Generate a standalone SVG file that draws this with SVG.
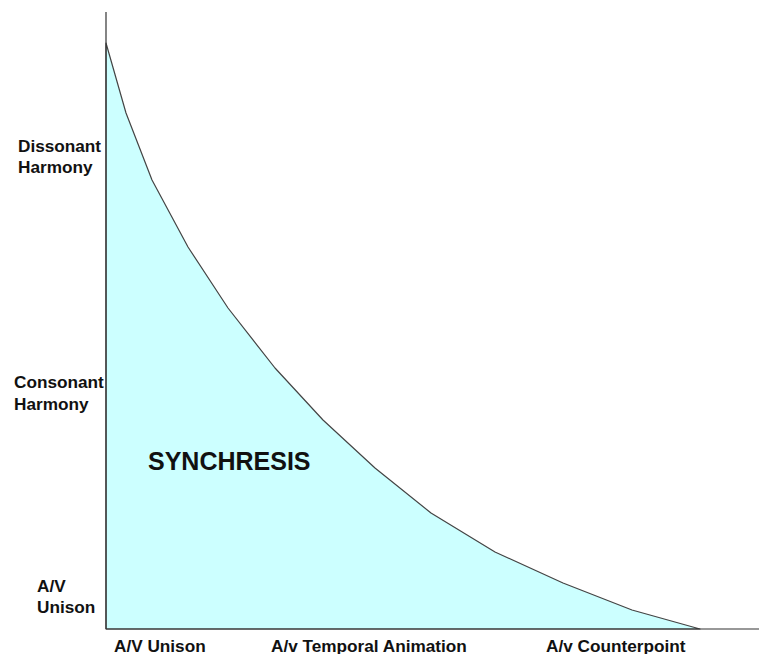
<svg xmlns="http://www.w3.org/2000/svg" width="759" height="654" viewBox="0 0 759 654">
  <style>
    .lbl { font-family: "Liberation Sans", Arial, Helvetica, sans-serif; font-weight: bold; font-size: 17.2px; fill: #111; }
    .big { font-family: "Liberation Sans", Arial, Helvetica, sans-serif; font-weight: bold; font-size: 25px; fill: #111; }
    .axis { stroke: #333; stroke-width: 1.2; fill: none; }
    .curve { stroke: #444; stroke-width: 1.2; fill: #CCFFFF; stroke-linejoin: round; }
  </style>
  <rect width="759" height="654" fill="#fff"/>

  <!-- synchresis region under the curve -->
  <g id="region">
    <path class="curve" d="M106,43 L126,113 L152,180 L188,247 L228,308 L275,368 L323,420 L375,468 L431,513 L495,552 L563,583 L632,610 L700,629 L106,629 Z"/>
    <text class="big" x="148" y="470">SYNCHRESIS</text>
  </g>

  <!-- axes -->
  <g id="axes">
    <line class="axis" x1="106" y1="12" x2="106" y2="629"/>
    <line class="axis" x1="106" y1="629" x2="759" y2="629"/>
  </g>

  <!-- vertical axis labels -->
  <g id="y-labels">
    <text class="lbl" x="18" y="152">Dissonant</text>
    <text class="lbl" x="18" y="173">Harmony</text>
    <text class="lbl" x="14" y="388">Consonant</text>
    <text class="lbl" x="14" y="410">Harmony</text>
    <text class="lbl" x="37" y="592">A/V</text>
    <text class="lbl" x="37" y="613">Unison</text>
  </g>

  <!-- horizontal axis labels -->
  <g id="x-labels">
    <text class="lbl" x="114" y="652">A/V Unison</text>
    <text class="lbl" x="271" y="652">A/v Temporal Animation</text>
    <text class="lbl" x="546" y="652">A/v Counterpoint</text>
  </g>
</svg>
